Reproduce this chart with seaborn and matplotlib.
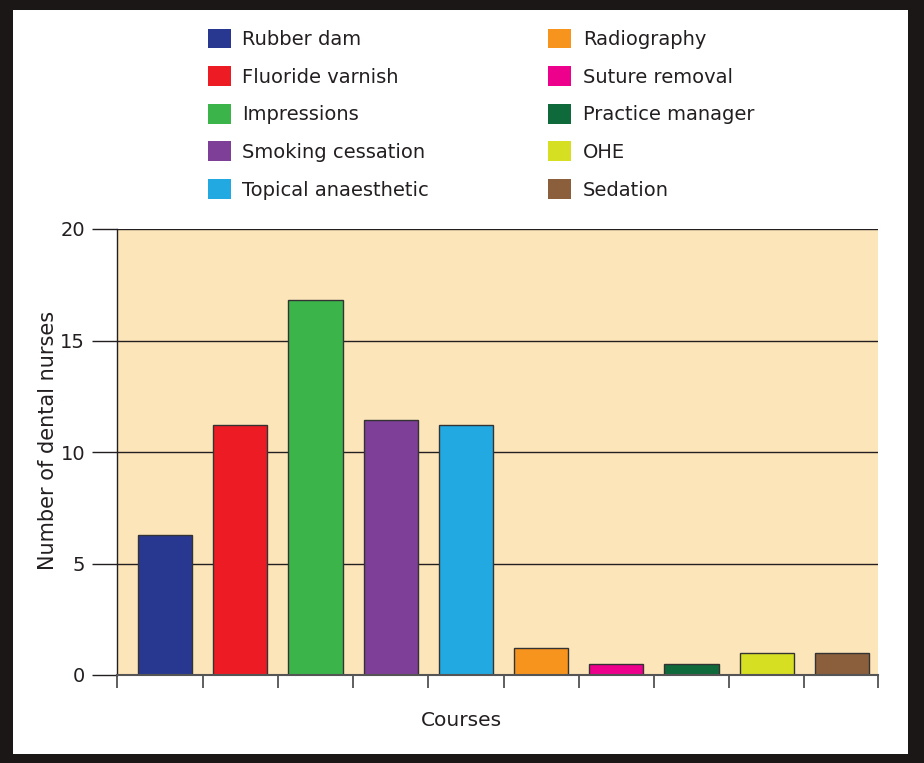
import matplotlib
matplotlib.use("Agg")
import matplotlib.pyplot as plt
import matplotlib.patches as mpatches
import seaborn as sns
import pandas as pd

# Courses taken by dental nurses
courses = ["Rubber dam", "Fluoride varnish", "Impressions", "Smoking cessation",
           "Topical anaesthetic", "Radiography", "Suture removal",
           "Practice manager", "OHE", "Sedation"]
nurses = [6.3, 11.2, 16.8, 11.45, 11.2, 1.2, 0.5, 0.5, 1.0, 1.0]
colors = ["#283891", "#ED1C24", "#3BB54A", "#7E3F98", "#22A9E1",
          "#F7941E", "#EC008C", "#0E6A3A", "#D7DF23", "#8B5E3C"]
y_ticks = [0, 5, 10, 15, 20]

df = pd.DataFrame({"course": courses, "nurses": nurses})

sns.set_theme(style="white")
plt.rcParams["font.family"] = ["DejaVu Sans"]

W, H = 924, 763
fig = plt.figure(figsize=(W / 100, H / 100), dpi=100)
fig.patch.set_facecolor("#1b1717")
# white panel inside the dark frame
fig.patches.append(mpatches.Rectangle((13 / W, 9 / H), (908 - 13) / W, (753 - 9) / H,
                                      transform=fig.transFigure, facecolor="white",
                                      edgecolor="none", zorder=-10))

ax = fig.add_axes([117 / W, (H - 675) / H, (878 - 117) / W, (675 - 229) / H])
ax.set_facecolor("#FDE5BA")

sns.barplot(data=df, x="course", y="nurses", hue="course", palette=colors,
            saturation=1, dodge=False, legend=False, width=0.72,
            edgecolor="#333333", linewidth=1.0, ax=ax, zorder=3)

ax.set_xlim(-0.64, 9.48)
ax.set_ylim(0, 20)
ax.set_yticks(y_ticks)
ax.set_yticklabels([str(t) for t in y_ticks], fontsize=14, color="#231f20")
for t in y_ticks[1:]:
    ax.axhline(t, color="#231f20", linewidth=1.0, zorder=2)

xt = [-0.64] + [i + 0.5 for i in range(9)] + [9.48]
ax.set_xticks(xt)
ax.set_xticklabels([])
ax.tick_params(axis="x", direction="out", length=9, width=1.2, color="#444444", bottom=True)
ax.tick_params(axis="y", direction="out", length=18, width=1.0, color="#231f20",
               left=True, pad=5)

for s in ["top", "right"]:
    ax.spines[s].set_visible(False)
ax.spines["left"].set_color("#231f20")
ax.spines["left"].set_linewidth(1.0)
ax.spines["bottom"].set_color("#555555")
ax.spines["bottom"].set_linewidth(1.5)
ax.spines["left"].set_zorder(4)
ax.spines["bottom"].set_zorder(4)

ax.set_xlabel("")
ax.set_ylabel("Number of dental nurses", fontsize=15, color="#231f20")
ax.yaxis.set_label_coords(-0.077, 0.525)
fig.text(461 / W, 1 - 721 / H, "Courses", ha="center", va="center",
         fontsize=14.5, color="#231f20")

handles = [mpatches.Patch(facecolor=c, edgecolor="none", label=l)
           for l, c in zip(courses, colors)]
leg = fig.legend(handles=handles, ncol=2, loc="upper left",
                 bbox_to_anchor=(190 / W, 1 - 11 / H), frameon=False,
                 fontsize=14, handlelength=1.2, handleheight=1.2,
                 handletextpad=0.6, columnspacing=6.1, labelspacing=0.88)
for txt in leg.get_texts():
    txt.set_color("#231f20")

fig.savefig("out.png", dpi=100, facecolor=fig.get_facecolor())
